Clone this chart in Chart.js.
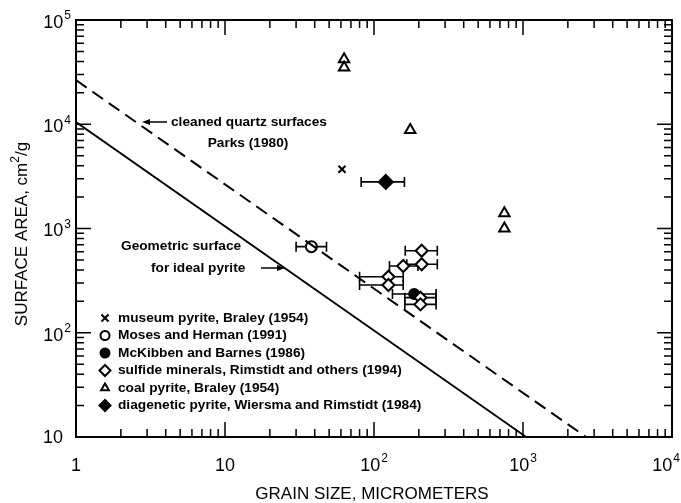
<!DOCTYPE html>
<html>
<head>
<meta charset="utf-8">
<script src="https://cdn.jsdelivr.net/npm/chart.js@4.4.0/dist/chart.umd.min.js"></script>
<style>
html,body{margin:0;padding:0;background:#fff}
canvas{display:block}
</style>
</head>
<body>
<canvas id="chart" width="681" height="503"></canvas>
<script>
// grain size (micrometers) and surface area (cm2/g)
const museumX = [61], museumY = [3700];
const mosesX = [38], mosesY = [670], mosesXmin = [30], mosesXmax = [48];
const mckibbenX = [186], mckibbenY = [235], mckibbenXmin = [133], mckibbenXmax = [261];
const sulfideX = [209, 157, 209, 125, 125, 205, 205];
const sulfideY = [612, 437, 454, 345, 287, 217, 187];
const sulfideXmin = [162, 127, 166, 80, 80, 161, 161];
const sulfideXmax = [266, 197, 266, 157, 157, 261, 261];
const coalX = [63, 63, 175, 750, 750], coalY = [42000, 35000, 8800, 1400, 1000];
const diagX = [120], diagY = [2800], diagXmin = [82], diagXmax = [160];
const geometricX = [1, 1050], geometricY = [10500, 10];
const quartzX = [1, 2650], quartzY = [26500, 10];

const xTicks = [1, 10, 100, 1000, 10000];
const yTicks = [10, 100, 1000, 10000, 100000];

const legendItems = [
  ['museum pyrite, Braley (1954)', 'crossRot', false],
  ['Moses and Herman (1991)', 'circle', false],
  ['McKibben and Barnes (1986)', 'circle', true],
  ['sulfide minerals, Rimstidt and others (1994)', 'rectRot', false],
  ['coal pyrite, Braley (1954)', 'triangle', false],
  ['diagenetic pyrite, Wiersma and Rimstidt (1984)', 'rectRot', true]
];

const pts = (xs, ys) => xs.map((x, i) => ({x: x, y: ys[i]}));
const FONT = '"Liberation Sans", Arial, Helvetica, sans-serif';
const SMALL = 'bold 13.7px ' + FONT;

function marker(label, xs, ys, style, r, filled, xmin, xmax) {
  return {
    label: label, data: pts(xs, ys), showLine: false,
    pointStyle: style, pointRadius: r, pointHoverRadius: r,
    pointBorderWidth: 2, pointBorderColor: '#000',
    pointBackgroundColor: filled ? '#000' : '#fff',
    xMin: xmin, xMax: xmax
  };
}

const errorBars = {
  id: 'errorBars',
  beforeDatasetsDraw(chart) {
    const {ctx, scales: {x, y}} = chart;
    ctx.save();
    ctx.strokeStyle = '#000';
    ctx.lineWidth = 1.6;
    chart.data.datasets.forEach(ds => {
      if (!ds.xMin) return;
      ds.data.forEach((p, i) => {
        const py = y.getPixelForValue(p.y);
        const x0 = x.getPixelForValue(ds.xMin[i]);
        const x1 = x.getPixelForValue(ds.xMax[i]);
        ctx.beginPath();
        ctx.moveTo(x0, py); ctx.lineTo(x1, py);
        ctx.moveTo(x0, py - 5); ctx.lineTo(x0, py + 5);
        ctx.moveTo(x1, py - 5); ctx.lineTo(x1, py + 5);
        ctx.stroke();
      });
    });
    ctx.restore();
  }
};

function sup(ctx, base, exp, x, y, align) {
  ctx.font = '18px ' + FONT;
  const wb = ctx.measureText(base).width;
  ctx.font = '12px ' + FONT;
  const we = exp ? ctx.measureText(exp).width + 1 : 0;
  let left = x;
  if (align === 'right') left = x - wb - we;
  if (align === 'center') left = Math.min(x - (wb + we) / 2, 680 - wb - we);
  ctx.textAlign = 'left';
  ctx.textBaseline = 'middle';
  ctx.font = '18px ' + FONT;
  ctx.fillText(base, left, y);
  if (exp) {
    ctx.font = '12px ' + FONT;
    ctx.fillText(exp, left + wb + 1, y - 7);
  }
}

function arrow(ctx, x0, y0, x1, y1) {
  const d = Math.sign(x1 - x0);
  ctx.beginPath();
  ctx.moveTo(x0, y0); ctx.lineTo(x1 - d * 6, y1);
  ctx.stroke();
  ctx.beginPath();
  ctx.moveTo(x1, y1);
  ctx.lineTo(x1 - d * 8, y1 - 3);
  ctx.lineTo(x1 - d * 8, y1 + 3);
  ctx.closePath();
  ctx.fill();
}

const frame = {
  id: 'frame',
  afterDraw(chart) {
    const {ctx, chartArea: a, scales: {x, y}} = chart;
    ctx.save();
    ctx.strokeStyle = '#000';
    ctx.fillStyle = '#000';
    ctx.lineWidth = 2;
    ctx.strokeRect(a.left, a.top, a.right - a.left, a.bottom - a.top);

    // inward ticks on all four sides
    ctx.lineWidth = 1.5;
    ctx.beginPath();
    for (let p = 0; p < 4; p++) {
      for (let m = 1; m <= 9; m++) {
        const px = x.getPixelForValue(m * Math.pow(10, p));
        const len = m === 1 ? 15 : 8;
        ctx.moveTo(px, a.bottom); ctx.lineTo(px, a.bottom - len);
        ctx.moveTo(px, a.top); ctx.lineTo(px, a.top + len);
      }
    }
    for (let p = 1; p < 5; p++) {
      for (let m = 1; m <= 9; m++) {
        const py = y.getPixelForValue(m * Math.pow(10, p));
        const len = m === 1 ? 15 : 8;
        ctx.moveTo(a.left, py); ctx.lineTo(a.left + len, py);
        ctx.moveTo(a.right, py); ctx.lineTo(a.right - len, py);
      }
    }
    ctx.stroke();

    // tick labels
    xTicks.forEach(v => {
      const e = Math.round(Math.log10(v));
      const px = x.getPixelForValue(v);
      if (e === 0) sup(ctx, '1', '', px, 466, 'center');
      else if (e === 1) sup(ctx, '10', '', px, 466, 'center');
      else sup(ctx, '10', String(e), px, 466, 'center');
    });
    yTicks.forEach(v => {
      const e = Math.round(Math.log10(v));
      const py = y.getPixelForValue(v);
      if (e === 1) sup(ctx, '10', '', 63, py + 1, 'right');
      else sup(ctx, '10', String(e), 71, py + 3, 'right');
    });

    // axis titles
    ctx.font = '17px ' + FONT;
    ctx.textAlign = 'center';
    ctx.textBaseline = 'middle';
    ctx.fillText('GRAIN SIZE, MICROMETERS', 372, 494);
    ctx.save();
    ctx.translate(22, 234);
    ctx.rotate(-Math.PI / 2);
    ctx.font = '17px ' + FONT;
    const t1 = 'SURFACE AREA, cm', t2 = '/g';
    const w1 = ctx.measureText(t1).width, w2 = ctx.measureText(t2).width;
    ctx.font = '12px ' + FONT;
    const ws = ctx.measureText('2').width;
    const sx = -(w1 + ws + w2) / 2;
    ctx.textAlign = 'left';
    ctx.font = '17px ' + FONT;
    ctx.fillText(t1, sx, 0);
    ctx.font = '12px ' + FONT;
    ctx.fillText('2', sx + w1, -6);
    ctx.font = '17px ' + FONT;
    ctx.fillText(t2, sx + w1 + ws, 0);
    ctx.restore();

    // annotations
    ctx.font = SMALL;
    ctx.textAlign = 'left';
    ctx.textBaseline = 'middle';
    ctx.fillText('cleaned quartz surfaces', 171, 122);
    ctx.textAlign = 'center';
    ctx.fillText('Parks (1980)', 248, 143);
    ctx.lineWidth = 1.5;
    arrow(ctx, 167, 122, 142, 122);
    ctx.textAlign = 'left';
    ctx.fillText('Geometric surface', 121, 246);
    ctx.fillText('for ideal pyrite', 151, 268);
    arrow(ctx, 261, 268, 285, 268);

    // legend
    legendItems.forEach((it, i) => {
      const ly = 318 + i * 17.5;
      ctx.save();
      ctx.lineWidth = 2;
      ctx.strokeStyle = '#000';
      ctx.fillStyle = it[2] ? '#000' : '#fff';
      const r = it[1] === 'crossRot' ? 5 : it[1] === 'rectRot' ? 5.5 : 4.5;
      Chart.helpers.drawPoint(ctx, {pointStyle: it[1], radius: r, rotation: 0, borderWidth: 2}, 105, ly);
      ctx.restore();
      ctx.font = SMALL;
      ctx.textAlign = 'left';
      ctx.textBaseline = 'middle';
      ctx.fillText(it[0], 118, ly);
    });
    ctx.restore();
  }
};

new Chart(document.getElementById('chart'), {
  type: 'scatter',
  data: {
    datasets: [
      {label: 'quartz', data: pts(quartzX, quartzY), showLine: true, pointRadius: 0,
       borderColor: '#000', borderWidth: 2, borderDash: [13, 7]},
      {label: 'geometric', data: pts(geometricX, geometricY), showLine: true, pointRadius: 0,
       borderColor: '#000', borderWidth: 1.8},
      marker('museum', museumX, museumY, 'crossRot', 5, false),
      marker('moses', mosesX, mosesY, 'circle', 5.5, false, mosesXmin, mosesXmax),
      marker('sulfide', sulfideX, sulfideY, 'rectRot', 6, false, sulfideXmin, sulfideXmax),
      marker('mckibben', mckibbenX, mckibbenY, 'circle', 5, true, mckibbenXmin, mckibbenXmax),
      marker('coal', coalX, coalY, 'triangle', 6, false),
      marker('diag', diagX, diagY, 'rectRot', 7, true, diagXmin, diagXmax)
    ]
  },
  options: {
    responsive: false,
    animation: false,
    devicePixelRatio: 1,
    layout: {padding: {left: 76, right: 8, top: 20, bottom: 66}},
    plugins: {legend: {display: false}, tooltip: {enabled: false}},
    scales: {
      x: {type: 'logarithmic', display: false, min: 1, max: 10000},
      y: {type: 'logarithmic', display: false, min: 10, max: 100000}
    }
  },
  plugins: [errorBars, frame]
});
</script>
</body>
</html>
